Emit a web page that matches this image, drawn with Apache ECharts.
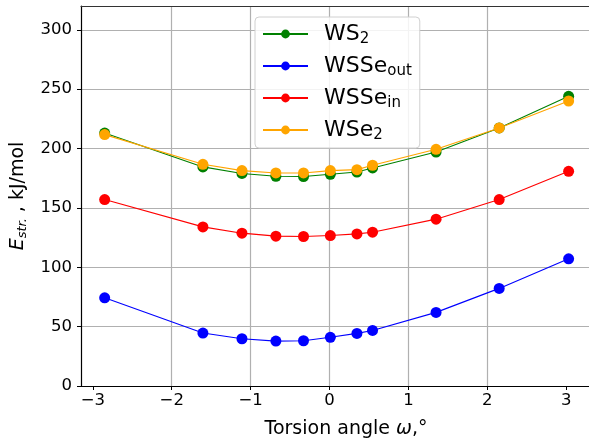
<!DOCTYPE html>
<html>
<head>
<meta charset="utf-8">
<script src="https://cdn.jsdelivr.net/npm/echarts@6/dist/echarts.min.js"></script>
<style>html,body{margin:0;padding:0;background:#fff;overflow:hidden}#c{width:589px;height:444px}</style>
</head>
<body>
<div id="c"></div>
<script>
const omega = [-2.85, -1.605, -1.11, -0.68, -0.33, 0.01, 0.347, 0.545, 1.35, 2.15, 3.03];
const ws2 = [213, 184.5, 179, 176.6, 176.4, 178.3, 180.2, 183.6, 197, 217.3, 243.9];
const wsseOut = [74.3, 44.6, 39.8, 37.8, 38.1, 41, 44.3, 46.8, 62, 82.2, 107.1];
const wsseIn = [157, 134, 128.7, 126.2, 125.9, 126.7, 128.1, 129.5, 140.5, 157, 180.8];
const wse2 = [211.7, 186.7, 181.4, 179.4, 179.4, 181.4, 182.2, 185.9, 199.3, 217.3, 240];
const xTicks = [-3, -2, -1, 0, 1, 2, 3];
const seriesNames = ['WS2', 'WSSe_out', 'WSSe_in', 'WSe2'];
const legendLabels = {'WS2': 'WS{sub|2}', 'WSSe_out': 'WSSe{sub|out}', 'WSSe_in': 'WSSe{sub|in}', 'WSe2': 'WSe{sub|2}'};
const colors = ['#008000', '#0000ff', '#ff0000', '#ffa500'];

const font = 'DejaVu Sans';
const chart = echarts.init(document.getElementById('c'), null, {renderer: 'canvas'});
const allData = [ws2, wsseOut, wsseIn, wse2];
const series = allData.map((vals, i) => ({
  name: seriesNames[i],
  type: 'line',
  data: omega.map((x, j) => [x, vals[j]]),
  symbol: 'circle',
  symbolSize: 11,
  showSymbol: true,
  lineStyle: {width: 1.1, color: colors[i]},
  itemStyle: {color: colors[i]},
  animation: false,
  z: 2 + i
}));

const xMin = -3.15, xMax = 3.567;

chart.setOption({
  animation: false,
  backgroundColor: '#fff',
  grid: {left: 81, top: 6, width: 530, height: 380, show: false,
    containLabel: false, outerBoundsMode: 'none'},
  legend: {
    data: seriesNames,
    left: 255, top: 17,
    orient: 'vertical',
    backgroundColor: 'rgba(255,255,255,0.85)',
    borderColor: '#d0d0d0', borderWidth: 1, borderRadius: 4,
    padding: [6, 8, 5, 7],
    itemWidth: 45, itemHeight: 11, itemGap: 8,
    formatter: n => legendLabels[n],
    textStyle: {fontFamily: font, fontSize: 22, color: '#000', padding: [0, 0, 0, 11],
      rich: {sub: {fontFamily: font, fontSize: 15, color: '#000', padding: [11, 0, 0, 0]}}}
  },
  xAxis: [{
    type: 'value', min: xMin, max: xMax, minInterval: 1, maxInterval: 1,
    name: '{n|Torsion angle }{i|ω}{n|,°}',
    nameLocation: 'middle', nameGap: 34,
    nameTextStyle: {fontFamily: font, fontSize: 19, color: '#000',
      rich: {n: {fontFamily: font, fontSize: 19, color: '#000'}, i: {fontFamily: font, fontSize: 19, fontStyle: 'italic', color: '#000'}}},
    axisLine: {show: true, onZero: false, lineStyle: {color: '#000', width: 1.2}},
    axisTick: {show: true, length: 4, customValues: xTicks, lineStyle: {color: '#000'}},
    axisLabel: {showMinLabel: false, showMaxLabel: false, fontFamily: font, fontSize: 16.5, color: '#000', margin: 6,
      formatter: v => String(v).replace('-', '\u2212')},
    splitLine: {show: true, showMinLine: false, showMaxLine: false, lineStyle: {color: '#b0b0b0', width: 1.2}}
  }, {
    type: 'value', min: xMin, max: xMax, position: 'top',
    axisLine: {show: true, onZero: false, lineStyle: {color: '#333', width: 1.2}},
    axisTick: {show: false}, axisLabel: {show: false}, splitLine: {show: false}
  }],
  yAxis: {
    type: 'value', min: 0, max: 320, interval: 50,
    name: '{i|E}{s|str.}{n| , kJ/mol}',
    nameLocation: 'middle', nameGap: 48, nameRotate: 90,
    nameTextStyle: {fontFamily: font, fontSize: 19, color: '#000',
      rich: {n: {fontFamily: font, fontSize: 19, color: '#000'},
             i: {fontFamily: font, fontSize: 19, fontStyle: 'italic', color: '#000'},
             s: {fontFamily: font, fontSize: 13, fontStyle: 'italic', color: '#000', padding: [10, 0, 0, 0]}}},
    axisLine: {show: true, onZero: false, lineStyle: {color: '#000', width: 1.2}},
    axisTick: {show: true, length: 4, lineStyle: {color: '#000'}},
    axisLabel: {showMaxLabel: false, fontFamily: font, fontSize: 16.5, color: '#000', margin: 9},
    splitLine: {show: true, showMaxLine: false, lineStyle: {color: '#b0b0b0', width: 1.2}}
  },
  series: series
});
</script>
</body>
</html>
